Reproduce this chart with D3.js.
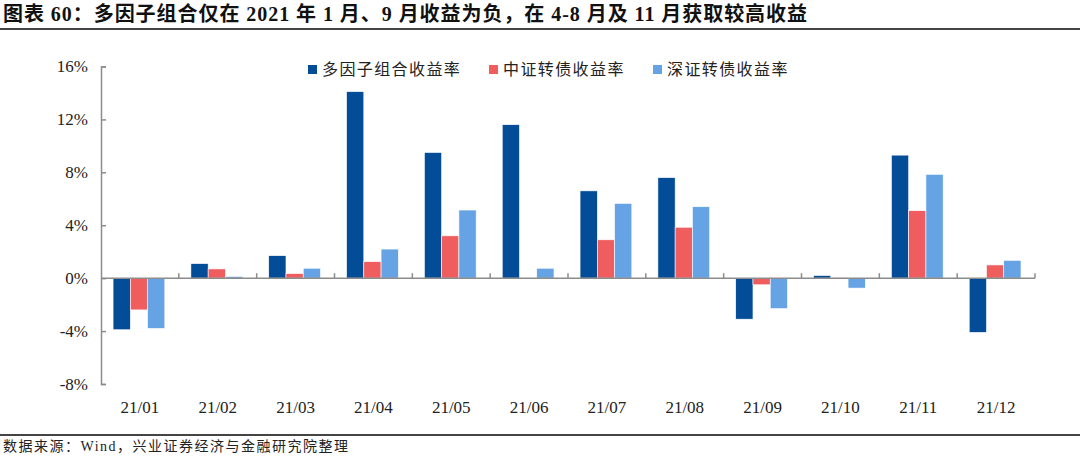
<!DOCTYPE html>
<html>
<head>
<meta charset="utf-8">
<script src="https://cdn.jsdelivr.net/npm/d3@7"></script>
<style>
  body { margin: 0; background: #fff; }
  svg { display: block; }
</style>
</head>
<body>
<svg id="chart" width="1080" height="457"></svg>
<script>
// data (percent)
const months = ["21/01", "21/02", "21/03", "21/04", "21/05", "21/06", "21/07", "21/08", "21/09", "21/10", "21/11", "21/12"]
const seriesNames = ["多因子组合收益率", "中证转债收益率", "深证转债收益率"]
const multiFactor = [-3.9, 1.1, 1.7, 14.1, 9.5, 11.6, 6.6, 7.6, -3.1, 0.2, 9.3, -4.1]
const csiCb = [-2.4, 0.7, 0.35, 1.25, 3.2, 0.0, 2.9, 3.85, -0.5, 0.05, 5.1, 1.0]
const szseCb = [-3.8, 0.13, 0.75, 2.2, 5.15, 0.75, 5.65, 5.4, -2.3, -0.75, 7.85, 1.35]
const yTicks = [-8, -4, 0, 4, 8, 12, 16]
const colors = ["#034C97", "#EF5D5E", "#66A3E4"]

const serif = "'Liberation Serif', 'Noto Sans CJK SC', serif"
const cjk = "'Liberation Serif', 'Noto Sans CJK SC', sans-serif"

const svg = d3.select("#chart")
const rows = months.map((m, i) => ({ month: m, values: [multiFactor[i], csiCb[i], szseCb[i]] }))

// title + rules
svg.append("text")
    .attr("x", 3).attr("y", 21)
    .style("font-family", cjk).style("font-size", "20px").style("font-weight", "bold")
    .style("letter-spacing", "0.95px")
    .style("fill", "#111")
    .text("图表 60：多因子组合仅在 2021 年 1 月、9 月收益为负，在 4-8 月及 11 月获取较高收益")
svg.append("line")
    .attr("x1", 0).attr("x2", 1080).attr("y1", 29).attr("y2", 29)
    .style("stroke", "#444").style("stroke-width", 2)
svg.append("line")
    .attr("x1", 0).attr("x2", 1080).attr("y1", 435).attr("y2", 435)
    .style("stroke", "#444").style("stroke-width", 2)
svg.append("text")
    .attr("x", 3).attr("y", 451)
    .style("font-family", cjk).style("font-size", "14px").style("fill", "#222")
    .style("letter-spacing", "1.5px")
    .text("数据来源：Wind，兴业证券经济与金融研究院整理")

// scales
const x0 = d3.scaleBand().domain(months).range([101, 1035]).padding(0)
const bw = x0.bandwidth()
const x1 = d3.scaleBand().domain(d3.range(3)).range([bw * 0.155, bw * 0.82]).padding(0)
const y = d3.scaleLinear().domain([-8, 16]).range([384, 66.5])

// y axis
const yAxis = svg.append("g")
    .attr("transform", "translate(101,0)")
    .call(d3.axisLeft(y).tickValues(yTicks).tickSizeInner(-5).tickSizeOuter(-5)
        .tickPadding(13).tickFormat(d => d + "%"))
yAxis.select(".domain").style("stroke", "#8c8c8c").style("stroke-width", 1.5)
yAxis.selectAll(".tick line").style("stroke", "#8c8c8c").style("stroke-width", 1.5)
yAxis.selectAll(".tick text")
    .style("font-family", serif).style("font-size", "17px").style("fill", "#222")

// bars
const groups = svg.append("g").selectAll("g")
    .data(rows)
    .join("g")
    .attr("transform", d => `translate(${x0(d.month)},0)`)
groups.selectAll("rect")
    .data(d => d.values.map((v, i) => ({ v, i })))
    .join("rect")
    .attr("x", d => x1(d.i))
    .attr("width", x1.bandwidth())
    .attr("y", d => y(Math.max(0, d.v)))
    .attr("height", d => Math.abs(y(d.v) - y(0)))
    .attr("fill", d => colors[d.i])
    .style("stroke", "#fff").style("stroke-width", 0.6)

// x axis line at zero, ticks between groups
const zero = y(0)
svg.append("line")
    .attr("x1", 101).attr("x2", 1035).attr("y1", zero).attr("y2", zero)
    .style("stroke", "#8c8c8c").style("stroke-width", 1.5)
svg.append("g").selectAll("line")
    .data(months.slice(1).map(m => x0(m)).concat([x0.range()[1]]))
    .join("line")
    .attr("x1", d => d).attr("x2", d => d)
    .attr("y1", zero).attr("y2", zero - 5)
    .style("stroke", "#8c8c8c").style("stroke-width", 1.5)
svg.append("g").selectAll("text")
    .data(months)
    .join("text")
    .attr("x", d => x0(d) + bw / 2)
    .attr("y", 413)
    .attr("text-anchor", "middle")
    .style("font-family", serif).style("font-size", "17px").style("fill", "#222")
    .text(d => d)

// legend
const legendX = [308, 489, 653]
const legend = svg.append("g").selectAll("g")
    .data(seriesNames)
    .join("g")
    .attr("transform", (d, i) => `translate(${legendX[i]},65)`)
legend.append("rect")
    .attr("width", 9).attr("height", 9)
    .attr("fill", (d, i) => colors[i])
legend.append("text")
    .attr("x", 14).attr("y", 10)
    .style("font-family", cjk).style("font-size", "16px").style("letter-spacing", "1.4px")
    .style("fill", "#222")
    .text(d => d)
</script>
</body>
</html>
